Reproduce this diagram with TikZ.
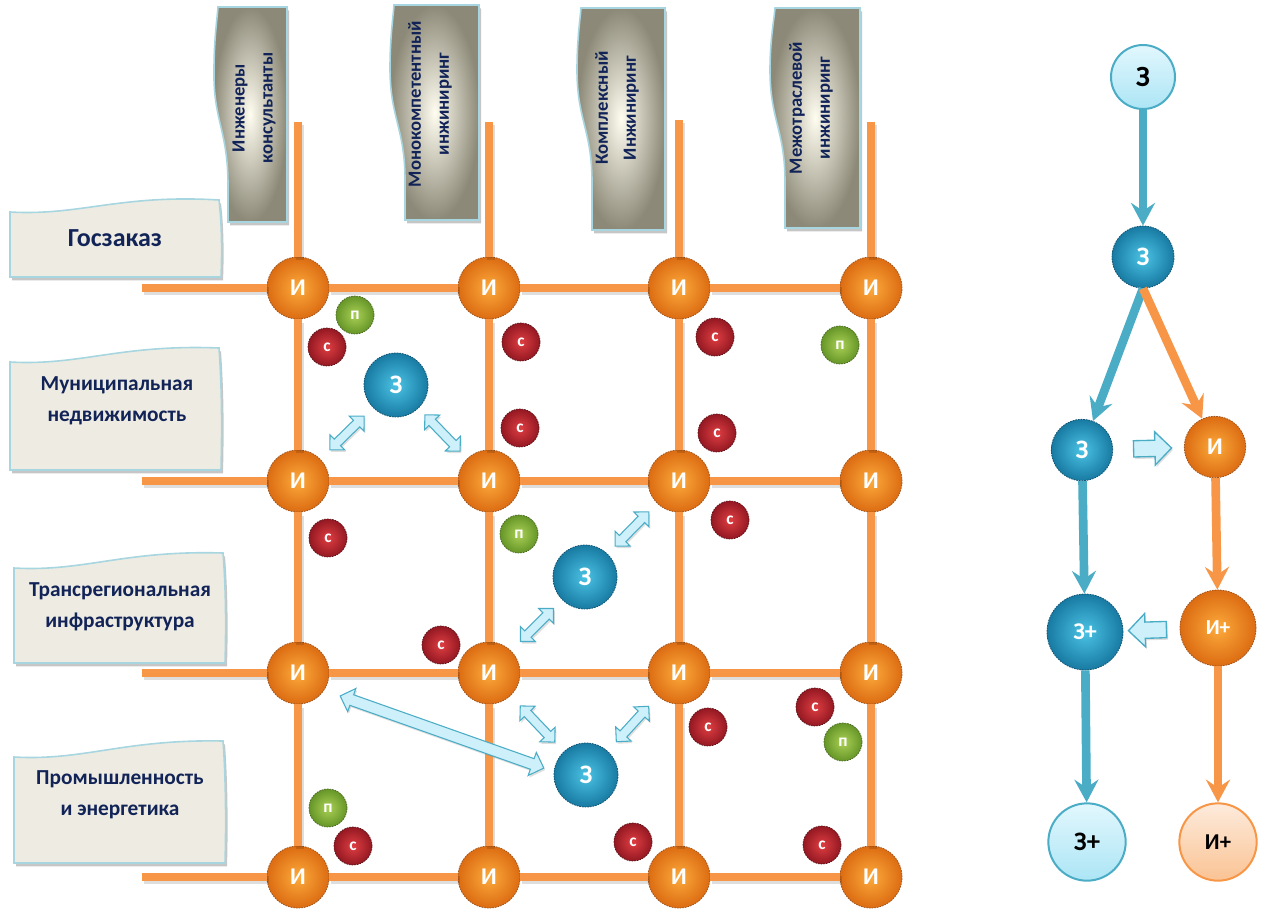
\documentclass[tikz,border=0pt]{standalone}
\usepackage{fontspec}
\setmainfont{Carlito}
\usetikzlibrary{arrows.meta,shapes.arrows,shadows,calc}

\definecolor{gridorange}{RGB}{247,150,70}
\definecolor{blueline}{RGB}{75,172,198}
\definecolor{iin}{RGB}{252,170,60}
\definecolor{iout}{RGB}{220,108,18}
\definecolor{iedge}{RGB}{160,85,30}
\definecolor{zin}{RGB}{75,195,228}
\definecolor{zout}{RGB}{24,122,162}
\definecolor{zedge}{RGB}{20,85,115}
\definecolor{cin}{RGB}{222,62,66}
\definecolor{cout}{RGB}{148,24,34}
\definecolor{cedge}{RGB}{95,20,25}
\definecolor{pin}{RGB}{170,208,85}
\definecolor{pout}{RGB}{102,150,40}
\definecolor{pedge}{RGB}{75,105,35}
\definecolor{boxfill}{RGB}{238,236,226}
\definecolor{boxline}{RGB}{168,214,224}
\definecolor{headin}{RGB}{255,253,240}
\definecolor{headout}{RGB}{140,137,120}
\definecolor{navy}{RGB}{17,35,87}
\definecolor{arrfill}{RGB}{205,240,250}
\definecolor{lightztop}{RGB}{226,247,253}
\definecolor{lightzbot}{RGB}{172,229,245}
\definecolor{lightitop}{RGB}{253,235,220}
\definecolor{lightibot}{RGB}{250,195,148}

\tikzset{every picture/.style={line width=0.75pt}}
\tikzset{
  ball/.style={circle, inner sep=0pt, text=white, dash pattern=on 1.2pt off 0.8pt, line width=0.6pt},
  inode/.style={ball, minimum size=46.5pt, inner color=iin, outer color=iout, draw=iedge, font=\bfseries\fontsize{18}{18}\selectfont},
  znode/.style={ball, minimum size=48pt, inner color=zin, outer color=zout, draw=zedge, font=\bfseries\fontsize{20}{20}\selectfont},
  cnode/.style={ball, minimum size=28.5pt, inner color=cin, outer color=cout, draw=cedge, font=\bfseries\fontsize{13}{13}\selectfont},
  pnode/.style={ball, minimum size=28.5pt, inner color=pin, outer color=pout, draw=pedge, font=\bfseries\fontsize{13}{13}\selectfont},
  lightz/.style={circle, inner sep=0pt, draw=blueline, line width=1.5pt, top color=lightztop, bottom color=lightzbot, text=black},
  lighti/.style={circle, inner sep=0pt, draw=gridorange, line width=1.5pt, top color=lightitop, bottom color=lightibot, text=black},
  gridline/.style={draw=gridorange, line width=6pt},
  gridshadow/.style={draw=black, opacity=0.13, line width=6pt, transform canvas={shift={(1.5pt,-2.5pt)}}},
  blueflow/.style={draw=blueline, line width=6.5pt, -{Stealth[length=17pt, width=18pt, inset=6pt]}},
  orangeflow/.style={draw=gridorange, line width=6.5pt, -{Stealth[length=17pt, width=18pt, inset=6pt]}},
  rowbox/.style={draw=boxline, fill=boxfill, line width=1.2pt, drop shadow={shadow xshift=1.5pt, shadow yshift=-2.5pt, opacity=0.45}},
  colbox/.style={draw=boxline, line width=1.2pt, inner color=headin, outer color=headout, drop shadow={shadow xshift=1.5pt, shadow yshift=-2.5pt, opacity=0.45}},
  rowtext/.style={align=center, text=navy, font=\bfseries\fontsize{16}{23}\selectfont},
  coltext/.style={align=center, rotate=90, text=navy, font=\bfseries\fontsize{14}{21}\selectfont},
  dblarr/.style={double arrow, draw=blueline, fill=arrfill, line width=0.8pt, inner xsep=0pt, inner ysep=3pt, double arrow head extend=4.5pt, drop shadow={shadow xshift=1pt, shadow yshift=-1.5pt, opacity=0.25}},
  sglarr/.style={single arrow, draw=blueline, fill=arrfill, line width=1pt, inner xsep=0pt, inner ysep=5.6pt, single arrow head extend=6.4pt, minimum height=28.5pt, drop shadow={shadow xshift=1pt, shadow yshift=-1.5pt, opacity=0.25}}
}

\begin{document}
\begin{tikzpicture}[x=0.75pt,y=0.75pt,yscale=-1,xscale=1]
\useasboundingbox (0,0) rectangle (1263,908);

%Shape: Wave (row labels)
\draw [rowbox] (10,212) .. controls (80,216) and (120,194) .. (219,200) .. controls (222,225) and (222,255) .. (221,277) -- (10,277) -- cycle ;
\draw [rowbox] (10,362) .. controls (80,366) and (120,344) .. (219,348) .. controls (222,390) and (222,430) .. (221,470) -- (10,470) -- cycle ;
\draw [rowbox] (14,568) .. controls (84,572) and (124,550) .. (223,553) .. controls (226,590) and (226,630) .. (225,663) -- (14,663) -- cycle ;
\draw [rowbox] (14,757) .. controls (84,761) and (124,739) .. (223,741) .. controls (226,780) and (226,830) .. (225,863) -- (14,863) -- cycle ;

%Shape: Wave (column heads)
\draw [colbox] (218,7) -- (287,7) -- (287,222) -- (228,222) -- (228,185) .. controls (228,130) and (213,120) .. (214,70) .. controls (214,40) and (217,20) .. (218,7) -- cycle ;
\draw [colbox] (394,5) -- (479,5) -- (479,220) -- (405,220) -- (405,180) .. controls (405,128) and (390,118) .. (390,68) .. controls (390,38) and (393,18) .. (394,5) -- cycle ;
\draw [colbox] (581,8) -- (665,8) -- (665,230) -- (592,230) -- (592,182) .. controls (592,130) and (577,120) .. (577,70) .. controls (577,40) and (580,20) .. (581,8) -- cycle ;
\draw [colbox] (775,8) -- (860,8) -- (860,228) -- (785,228) -- (785,182) .. controls (785,130) and (770,120) .. (770,70) .. controls (770,40) and (774,20) .. (775,8) -- cycle ;

% Text Node
\node [rowtext, font=\bfseries\fontsize{19.5}{23}\selectfont] (row1) at (115,238) {Госзаказ};
% Text Node
\node [rowtext] (row2) at (117,401) {Муниципальная\\недвижимость};
% Text Node
\node [rowtext] (row3) at (120,607) {Трансрегиональная\\инфраструктура};
% Text Node
\node [rowtext] (row4) at (120,795) {Промышленность\\и энергетика};
% Text Node
\node [coltext] (col1) at (254,108) {Инженеры\\консультанты};
% Text Node
\node [coltext] (col2) at (430,104) {Монокомпетентный\\инжиниринг};
% Text Node
\node [coltext] (col3) at (617,108) {Комплексный\\Инжиниринг};
% Text Node
\node [coltext] (col4) at (811,108) {Межотраслевой\\инжиниринг};

%Nodes: engineers
\node [inode] (i11) at (298,288) {И};
\node [inode] (i12) at (489,288) {И};
\node [inode] (i13) at (679,288) {И};
\node [inode] (i14) at (871,288) {И};
\node [inode] (i21) at (298,481) {И};
\node [inode] (i22) at (489,481) {И};
\node [inode] (i23) at (679,481) {И};
\node [inode] (i24) at (871,481) {И};
\node [inode] (i31) at (298,673) {И};
\node [inode] (i32) at (489,673) {И};
\node [inode] (i33) at (679,673) {И};
\node [inode] (i34) at (871,673) {И};
\node [inode] (i41) at (298,877) {И};
\node [inode] (i42) at (489,877) {И};
\node [inode] (i43) at (679,877) {И};
\node [inode] (i44) at (871,877) {И};

%Coordinates: line ends
\coordinate (top1) at (298,122);
\coordinate (top2) at (489,122);
\coordinate (top3) at (679,120);
\coordinate (top4) at (871,122);
\coordinate (left1) at (142,288);
\coordinate (left2) at (142,481);
\coordinate (left3) at (142,673);
\coordinate (left4) at (142,877);

%Straight Lines: grid shadow
\draw [gridshadow] (left1) -- (i11) (i11) -- (i12) (i12) -- (i13) (i13) -- (i14) ;
\draw [gridshadow] (left2) -- (i21) (i21) -- (i22) (i22) -- (i23) (i23) -- (i24) ;
\draw [gridshadow] (left3) -- (i31) (i31) -- (i32) (i32) -- (i33) (i33) -- (i34) ;
\draw [gridshadow] (left4) -- (i41) (i41) -- (i42) (i42) -- (i43) (i43) -- (i44) ;
\draw [gridshadow] (top1) -- (i11) (i11) -- (i21) (i21) -- (i31) (i31) -- (i41) ;
\draw [gridshadow] (top2) -- (i12) (i12) -- (i22) (i22) -- (i32) (i32) -- (i42) ;
\draw [gridshadow] (top3) -- (i13) (i13) -- (i23) (i23) -- (i33) (i33) -- (i43) ;
\draw [gridshadow] (top4) -- (i14) (i14) -- (i24) (i24) -- (i34) (i34) -- (i44) ;
%Straight Lines: grid
\draw [gridline] (left1) -- (i11) (i11) -- (i12) (i12) -- (i13) (i13) -- (i14) ;
\draw [gridline] (left2) -- (i21) (i21) -- (i22) (i22) -- (i23) (i23) -- (i24) ;
\draw [gridline] (left3) -- (i31) (i31) -- (i32) (i32) -- (i33) (i33) -- (i34) ;
\draw [gridline] (left4) -- (i41) (i41) -- (i42) (i42) -- (i43) (i43) -- (i44) ;
\draw [gridline] (top1) -- (i11) (i11) -- (i21) (i21) -- (i31) (i31) -- (i41) ;
\draw [gridline] (top2) -- (i12) (i12) -- (i22) (i22) -- (i32) (i32) -- (i42) ;
\draw [gridline] (top3) -- (i13) (i13) -- (i23) (i23) -- (i33) (i33) -- (i43) ;
\draw [gridline] (top4) -- (i14) (i14) -- (i24) (i24) -- (i34) (i34) -- (i44) ;

%Nodes: customers
\node [znode] (z1) at (396,385) {З};
\node [znode] (z2) at (585,577) {З};
\node [znode] (z3) at (586,775) {З};

%Nodes: small
\node [cnode] (c1) at (327,347) {с};
\node [cnode] (c2) at (521,342) {с};
\node [cnode] (c3) at (520,428) {с};
\node [cnode] (c4) at (715,337) {с};
\node [cnode] (c5) at (717,433) {с};
\node [cnode] (c6) at (328,538) {с};
\node [cnode] (c7) at (730,520) {с};
\node [cnode] (c8) at (441,645) {с};
\node [cnode] (c9) at (708,727) {с};
\node [cnode] (c10) at (815,707) {с};
\node [cnode] (c11) at (353,846) {с};
\node [cnode] (c12) at (633,842) {с};
\node [cnode] (c13) at (822,845) {с};
\node [pnode] (p1) at (355,315) {п};
\node [pnode] (p2) at (519,534) {п};
\node [pnode] (p3) at (840,345) {п};
\node [pnode] (p4) at (843,742) {п};
\node [pnode] (p5) at (328,808) {п};

%Block Arrows: links
\path let \p1=($(i21)-(z1)$), \n1={-atan2(\y1,\x1)} in ($(z1)!0.5!(i21)$) node [dblarr, rotate=\n1, minimum height=36pt] (a1) {} ;
\path let \p1=($(i22)-(z1)$), \n1={-atan2(\y1,\x1)} in ($(z1)!0.5!(i22)$) node [dblarr, rotate=\n1, minimum height=38pt] (a2) {} ;
\path let \p1=($(i23)-(z2)$), \n1={-atan2(\y1,\x1)} in ($(z2)!0.5!(i23)$) node [dblarr, rotate=\n1, minimum height=36pt] (a3) {} ;
\path let \p1=($(i32)-(z2)$), \n1={-atan2(\y1,\x1)} in ($(z2)!0.5!(i32)$) node [dblarr, rotate=\n1, minimum height=35pt] (a4) {} ;
\path let \p1=($(i32)-(z3)$), \n1={-atan2(\y1,\x1)} in ($(z3)!0.5!(i32)$) node [dblarr, rotate=\n1, minimum height=37.5pt] (a5) {} ;
\path let \p1=($(i33)-(z3)$), \n1={-atan2(\y1,\x1)} in ($(z3)!0.5!(i33)$) node [dblarr, rotate=\n1, minimum height=36pt] (a6) {} ;
\path let \p1=($(i31)-(z3)$), \n1={-atan2(\y1,\x1)} in ($(z3)!0.5!(i31)+(0,8)$) node [dblarr, rotate=\n1, inner ysep=3.8pt, double arrow head extend=5pt, minimum height=162pt] (a7) {} ;

%Nodes: flow
\node [lightz, minimum size=48pt, font=\bfseries\fontsize{22}{22}\selectfont] (zt) at (1143,77) {З};
\node [znode, minimum size=46.5pt] (z0) at (1143,257) {З};
\node [znode, minimum size=46pt] (zl) at (1082,450) {З};
\node [inode, minimum size=46pt] (il) at (1215,447) {И};
\node [znode, minimum size=57pt, font=\bfseries\fontsize{18}{18}\selectfont] (zp) at (1085,632) {З+};
\node [inode, minimum size=57pt, font=\bfseries\fontsize{16}{16}\selectfont] (ip) at (1218,628) {И+};
\node [lightz, minimum size=58pt, font=\bfseries\fontsize{20}{20}\selectfont] (zb) at (1087,842) {З+};
\node [lighti, minimum size=58pt, font=\bfseries\fontsize{17}{17}\selectfont] (ib) at (1218,842) {И+};

%Arrows: flow
\draw [blueflow] (zt) -- (z0) ;
\draw [blueflow] (z0.south) -- (zl) ;
\draw [orangeflow] (z0.south) -- (il) ;
\draw [blueflow] (zl) -- (zp) ;
\draw [orangeflow] (il) -- (ip) ;
\draw [blueflow] (zp) -- (zb) ;
\draw [orangeflow] (ip) -- (ib) ;
\path let \p1=($(il)-(zl)$), \n1={-atan2(\y1,\x1)} in ($(zl)!0.5!(il)$) node [sglarr, rotate=\n1] (s1) {} ;
\path let \p1=($(zp)-(ip)$), \n1={-atan2(\y1,\x1)} in ($(ip)!0.5!(zp)$) node [sglarr, rotate=\n1] (s2) {} ;

\end{tikzpicture}
\end{document}
